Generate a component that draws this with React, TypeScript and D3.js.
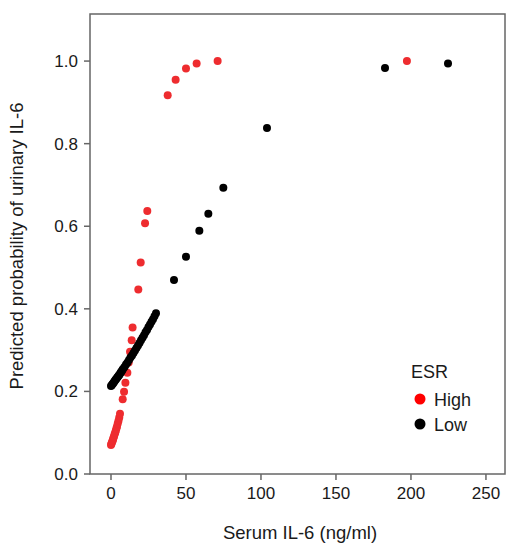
import React from "react";
import * as d3 from "d3";

const highX = [0, 0.3, 0.6, 1.0, 1.3, 1.6, 2.0, 2.4, 2.8, 3.2, 3.6, 4.0, 4.5, 5.0, 5.5, 6.0, 7.8, 8.7, 9.6, 10.9, 11.8, 12.7, 13.8, 14.4, 18.2, 19.8, 22.7, 24.2, 37.8, 43.1, 50.0, 57.1, 71.1, 197.3];
const highY = [0.070, 0.073, 0.076, 0.080, 0.083, 0.087, 0.091, 0.096, 0.100, 0.105, 0.110, 0.115, 0.122, 0.129, 0.137, 0.146, 0.181, 0.199, 0.221, 0.245, 0.270, 0.296, 0.324, 0.355, 0.447, 0.512, 0.607, 0.637, 0.917, 0.955, 0.982, 0.994, 1.0, 1.0];

const lowX = [0, 0.5, 1, 1.5, 2, 2.5, 3, 3.5, 4, 4.5, 5, 5.5, 6, 6.5, 7, 7.5, 8, 9, 10, 11, 12, 13, 14, 15, 16, 17, 18, 19, 20, 21, 22, 23, 24, 25, 26, 27, 28, 29, 30, 42, 50, 58.9, 64.9, 74.9, 104, 182.7, 224.7];
const lowY = [0.213, 0.215, 0.218, 0.220, 0.223, 0.225, 0.228, 0.230, 0.233, 0.235, 0.238, 0.240, 0.243, 0.246, 0.248, 0.251, 0.254, 0.259, 0.265, 0.270, 0.276, 0.282, 0.287, 0.293, 0.299, 0.305, 0.311, 0.317, 0.324, 0.330, 0.336, 0.343, 0.349, 0.356, 0.362, 0.369, 0.375, 0.382, 0.389, 0.470, 0.526, 0.589, 0.630, 0.693, 0.838, 0.983, 0.994];

const xTicks = [0, 50, 100, 150, 200, 250];
const yTicks = [0, 0.2, 0.4, 0.6, 0.8, 1.0];
const legendLabels = ["High", "Low"];

const W = 507, H = 551;
const left = 90, right = 505, top = 14, bottom = 474;
const font = "Arial, 'Liberation Sans', sans-serif";
const textColor = "#1a1a1a";
const axisColor = "#666";

export default function App() {
  const x = d3.scaleLinear().domain([-14, 262.7]).range([left, right]);
  const y = d3.scaleLinear().domain([0, 1.114]).range([bottom, top]);
  const high = highX.map((v, i) => [v, highY[i]]);
  const low = lowX.map((v, i) => [v, lowY[i]]);
  return (
    <svg width={W} height={H} style={{ position: "absolute", left: 0, top: 0, background: "#fff" }} fontFamily={font}>
      <rect x={0} y={0} width={W} height={H} fill="#fff" />
      {high.map((d, i) => (
        <circle key={"h" + i} cx={x(d[0])} cy={y(d[1])} r={4} fill="#ee2c2f" />
      ))}
      {low.map((d, i) => (
        <circle key={"l" + i} cx={x(d[0])} cy={y(d[1])} r={4} fill="#000" />
      ))}
      <rect x={left} y={top} width={right - left} height={bottom - top} fill="none" stroke={axisColor} strokeWidth={1.5} />
      {xTicks.map((t) => (
        <g key={"x" + t}>
          <line x1={x(t)} x2={x(t)} y1={bottom} y2={bottom + 6} stroke={axisColor} strokeWidth={1.5} />
          <text x={x(t)} y={bottom + 25} textAnchor="middle" fontSize={17} fill={textColor}>{t}</text>
        </g>
      ))}
      {yTicks.map((t) => (
        <g key={"y" + t}>
          <line x1={left - 6} x2={left} y1={y(t)} y2={y(t)} stroke={axisColor} strokeWidth={1.5} />
          <text x={left - 12} y={y(t) + 6} textAnchor="end" fontSize={17} fill={textColor}>{d3.format(".1f")(t)}</text>
        </g>
      ))}
      <text x={300} y={539} textAnchor="middle" fontSize={18.5} fill={textColor}>Serum IL-6 (ng/ml)</text>
      <text transform={`translate(23,246) rotate(-90)`} textAnchor="middle" fontSize={18.5} fill={textColor}>Predicted probability of urinary IL-6</text>
      <text x={411} y={378} fontSize={18} fill={textColor}>ESR</text>
      {legendLabels.map((l, i) => (
        <g key={l}>
          <circle cx={420} cy={399 + i * 25} r={5.5} fill={i === 0 ? "#ff0000" : "#000"} />
          <text x={434} y={405.5 + i * 25} fontSize={18} fill={textColor}>{l}</text>
        </g>
      ))}
    </svg>
  );
}
